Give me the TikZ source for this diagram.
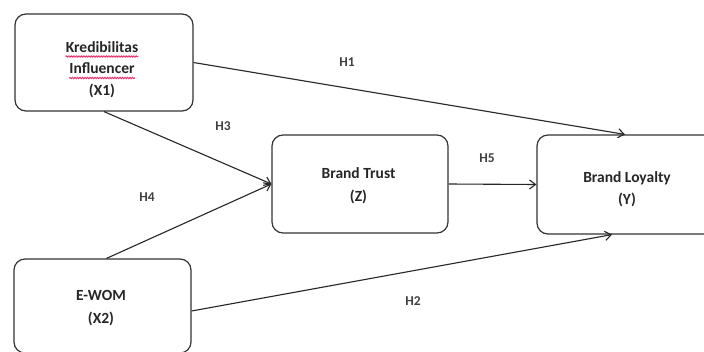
\documentclass[tikz,border=0pt]{standalone}
\usepackage{fontspec}
\setmainfont{Carlito}
\usetikzlibrary{arrows.meta,decorations.pathmorphing}
\begin{document}
\begin{tikzpicture}[x=1pt,y=-1pt,
  box/.style={draw=black!80, line width=1.2pt, rounded corners=11pt, fill=white},
  txt/.style={font=\fontsize{15.5}{22}\selectfont\bfseries, text=black!85, inner sep=0pt},
  hyp/.style={font=\fontsize{13.5}{16}\selectfont\bfseries, text=black!75, inner sep=0pt},
  conn/.style={draw=black!85, line width=1.1pt, -{Straight Barb[length=6pt,width=9pt,line width=1.1pt]}},
  spell/.style={draw={rgb,255:red,232;green,60;blue,115}, line width=1.2pt, decorate, decoration={snake, amplitude=0.5pt, segment length=2.5pt}}]
\useasboundingbox (0,0) rectangle (704,351);
\fill[white] (0,0) rectangle (704,351);
% boxes
\node[box, minimum width=178pt, minimum height=97pt] (X1) at (104,62.5) {};
\node[box, minimum width=177pt, minimum height=94pt] (X2) at (102.5,306) {};
\node[box, minimum width=176pt, minimum height=98pt] (Z) at (360,184) {};
\node[box, minimum width=180pt, minimum height=99pt] (Y) at (627,184.5) {};
% texts
\node[txt, anchor=base] (k1) at (102,52) {Kredibilitas};
\node[txt, anchor=base] (k2) at (102,73.5) {Influencer};
\node[txt, anchor=base] (k3) at (102,95) {(X1)};
\draw[spell] ([yshift=-4.5pt]k1.base west) -- ([yshift=-4.5pt]k1.base east);
\draw[spell] ([yshift=-4.5pt]k2.base west) -- ([yshift=-4.5pt]k2.base east);
\node[txt, anchor=base] (e1) at (101,300) {E-WOM};
\node[txt, anchor=base] (e2) at (101,323) {(X2)};
\node[txt, anchor=base] (z1) at (358.5,178) {Brand Trust};
\node[txt, anchor=base] (z2) at (358.5,201) {(Z)};
\node[txt, anchor=base] (y1) at (627,182) {Brand Loyalty};
\node[txt, anchor=base] (y2) at (627,204) {(Y)};
% connectors
\draw[conn] (X1.east) -- ([xshift=-2pt]Y.north);
\draw[conn] (X1.south) -- (Z.west);
\draw[conn] ([xshift=4pt]X2.north) -- (Z.west);
\draw[conn] (Z.east) -- (Y.west);
\draw[conn] ([yshift=-5pt]X2.east) -- ([xshift=-15pt]Y.south);
% labels
\node[hyp] (h1) at (347,62) {H1};
\node[hyp] (h3) at (223,126) {H3};
\node[hyp] (h4) at (147,197) {H4};
\node[hyp] (h5) at (487,158) {H5};
\node[hyp] (h2) at (413,301) {H2};
\end{tikzpicture}
\end{document}
